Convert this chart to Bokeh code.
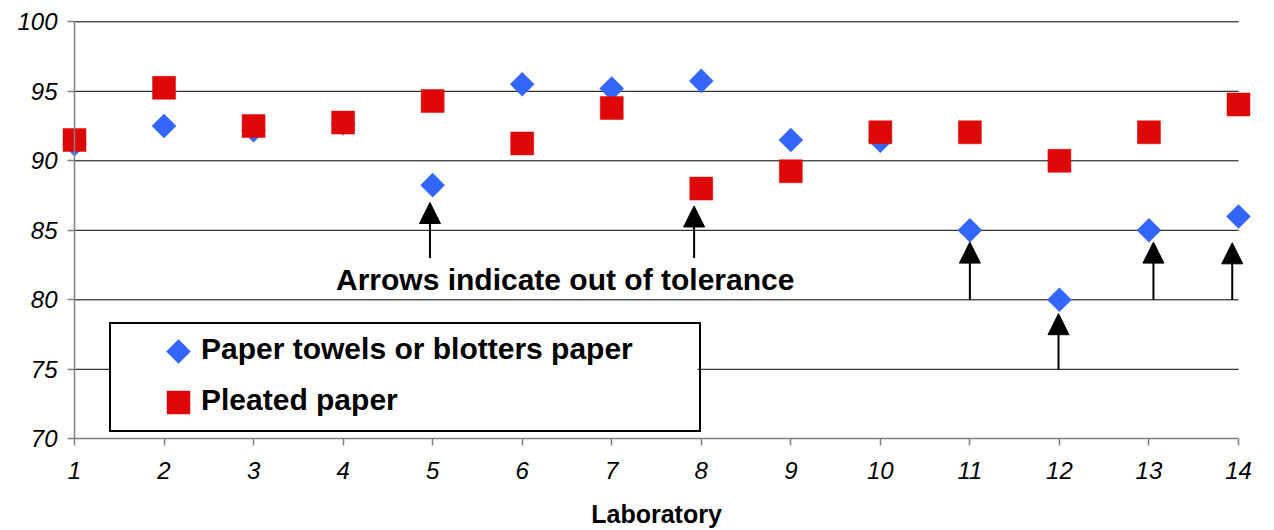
import math
from bokeh.plotting import figure
from bokeh.models import (Range1d, LinearAxis, FixedTicker, ColumnDataSource, Arrow,
                          NormalHead, Label, Legend, LegendItem)
from bokeh.embed import file_html
from bokeh.resources import INLINE

# ---- data ----
labs = list(range(1, 15))
towels = [91.2, 92.5, 92.2, 92.7, 88.25, 95.5, 95.2, 95.75, 91.5, 91.45, 85.0, 80.0, 85.0, 86.0]
pleated = [91.5, 95.25, 92.5, 92.75, 94.3, 91.25, 93.8, 88.0, 89.25, 92.05, 92.05, 90.0, 92.05, 94.05]
y_ticks = [70, 75, 80, 85, 90, 95, 100]
grid_vals = [75, 80, 85, 90, 95, 100]
arrow_x = [4.97, 7.92, 11.0, 11.99, 13.05, 13.93]
arrow_from = [83.0, 83.0, 80.0, 75.0, 80.0, 80.0]
arrow_to = [87.0, 86.75, 84.15, 79.0, 84.15, 84.1]
series_names = ["Paper towels or blotters paper", "Pleated paper"]
note_text = "Arrows indicate out of tolerance"
x_title = "Laboratory"

BLUE = "#3366FF"
RED = "#DF0808"
FONT = "Liberation Sans"
DIAMOND_SIZE = 17
SQUARE_SIZE = 23

W, H = 1274, 530
# frame covers the whole canvas; axes are drawn at fixed locations
px_per_x = (1238 - 74) / 13.0
px_per_y = (438.3 - 21.3) / 30.0
x0 = 1 - 74 / px_per_x
x1 = 14 + (W - 1238) / px_per_x
y1 = 100 + 21.3 / px_per_y
y0 = 70 - (H - 438.3) / px_per_y

def sx_to_x(sx):
    return x0 + sx / px_per_x

def sy_to_y(sy):
    return y1 - sy / px_per_y

p = figure(width=W, height=H, x_range=Range1d(x0, x1), y_range=Range1d(y0, y1),
           x_axis_type=None, y_axis_type=None, min_border=0,
           toolbar_location=None, output_backend="svg", outline_line_color=None)
p.background_fill_color = "white"

# grid lines
p.segment(x0=[labs[0]] * len(grid_vals), x1=[labs[-1]] * len(grid_vals),
          y0=grid_vals, y1=grid_vals, line_color="black", line_width=1)

xaxis = LinearAxis(fixed_location=y_ticks[0], bounds=(labs[0], labs[-1]),
                   ticker=FixedTicker(ticks=labs))
xaxis.axis_line_color = "#808080"
xaxis.axis_line_width = 1.5
xaxis.major_tick_line_color = "#808080"
xaxis.major_tick_line_width = 1.5
xaxis.major_tick_out = 7
xaxis.major_tick_in = 0
xaxis.minor_tick_out = 0
xaxis.minor_tick_in = 0
xaxis.major_label_text_font = FONT
xaxis.major_label_text_font_style = "italic"
xaxis.major_label_text_font_size = "24px"
xaxis.major_label_text_color = "black"
xaxis.major_label_standoff = 16
xaxis.axis_label = x_title
xaxis.axis_label_text_font = FONT
xaxis.axis_label_text_font_style = "bold"
xaxis.axis_label_text_font_size = "25px"
xaxis.axis_label_text_color = "black"
xaxis.axis_label_standoff = 18
p.add_layout(xaxis, "below")

yaxis = LinearAxis(fixed_location=labs[0], bounds=(y_ticks[0], y_ticks[-1]),
                   ticker=FixedTicker(ticks=y_ticks))
yaxis.axis_line_color = "#808080"
yaxis.axis_line_width = 1.5
yaxis.major_tick_line_color = "#808080"
yaxis.major_tick_line_width = 1.5
yaxis.major_tick_out = 7
yaxis.major_tick_in = 0
yaxis.minor_tick_out = 0
yaxis.minor_tick_in = 0
yaxis.major_label_text_font = FONT
yaxis.major_label_text_font_style = "italic"
yaxis.major_label_text_font_size = "24px"
yaxis.major_label_text_color = "black"
yaxis.major_label_standoff = 10
p.add_layout(yaxis, "left")

src = ColumnDataSource(dict(lab=labs, towels=towels, pleated=pleated))
r1 = p.scatter("lab", "towels", source=src, marker="square", angle=math.pi / 4,
               size=DIAMOND_SIZE, fill_color=BLUE, line_color=BLUE, line_width=0.5)
r2 = p.scatter("lab", "pleated", source=src, marker="square", size=SQUARE_SIZE,
               fill_color=RED, line_color=RED, line_width=0.5)

asrc = ColumnDataSource(dict(x=arrow_x, y0=arrow_from, y1=arrow_to))
p.add_layout(Arrow(end=NormalHead(size=21, fill_color="black", line_color="black", line_width=1),
                   x_start="x", y_start="y0", x_end="x", y_end="y1", source=asrc,
                   line_color="black", line_width=2))

p.add_layout(Label(x=6.48, y=81.45, text=note_text, text_align="center",
                   text_baseline="middle", text_font=FONT, text_font_style="bold",
                   text_font_size="30px", text_color="black"))

# ---- legend: Legend draws border + labels; an opaque panel and full-size keys sit beneath it
LEG_LEFT, LEG_BOTTOM = 109, 98
PAD_L, PAD_R, PAD_T, PAD_B = 59, 18, 7, 12
GLYPH_W, ITEM_H = 20, 36
SPACING = 15
STANDOFF = 11
LABEL_W = 480
leg_w = PAD_L + GLYPH_W + STANDOFF + LABEL_W + PAD_R
leg_h = PAD_T + 2 * ITEM_H + SPACING + PAD_B
leg_top = H - LEG_BOTTOM - leg_h

p.quad(left=[sx_to_x(LEG_LEFT)], right=[sx_to_x(LEG_LEFT + leg_w)],
       top=[sy_to_y(leg_top)], bottom=[sy_to_y(H - LEG_BOTTOM)],
       fill_color="white", line_color=None)

key_sx = LEG_LEFT + PAD_L + GLYPH_W / 2
key1_sy = leg_top + PAD_T + ITEM_H / 2
key2_sy = key1_sy + ITEM_H + SPACING
p.scatter(x=[sx_to_x(key_sx)], y=[sy_to_y(key1_sy)], marker="square", angle=math.pi / 4,
          size=DIAMOND_SIZE, fill_color=BLUE, line_color=BLUE, line_width=0.5)
p.scatter(x=[sx_to_x(key_sx)], y=[sy_to_y(key2_sy)], marker="square",
          size=SQUARE_SIZE, fill_color=RED, line_color=RED, line_width=0.5)

legend = Legend(items=[LegendItem(label=series_names[0], renderers=[r1]),
                       LegendItem(label=series_names[1], renderers=[r2])],
                location=(LEG_LEFT, LEG_BOTTOM), margin=0,
                padding=dict(left=PAD_L, right=PAD_R, top=PAD_T, bottom=PAD_B), spacing=SPACING,
                glyph_width=GLYPH_W, glyph_height=ITEM_H, label_standoff=STANDOFF,
                label_width=LABEL_W, label_height=ITEM_H,
                label_text_font=FONT, label_text_font_style="bold",
                label_text_font_size="30px", label_text_color="black",
                border_line_color="black", border_line_width=2.5, border_line_alpha=1.0,
                background_fill_alpha=0.0)
p.add_layout(legend, "center")

open("out.html", "w").write(file_html(p, INLINE))
